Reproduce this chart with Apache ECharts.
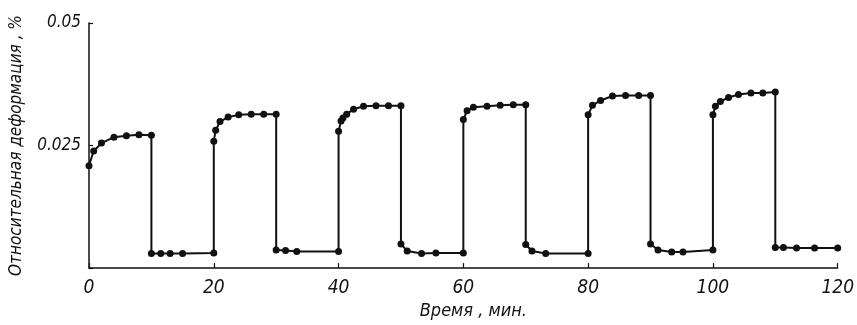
<!DOCTYPE html>
<html>
<head>
<meta charset="utf-8">
<script src="https://cdn.jsdelivr.net/npm/echarts@6/dist/echarts.min.js"></script>
<style>
  html, body { margin: 0; padding: 0; background: #fff; }
  #chart { width: 857px; height: 325px; }
</style>
</head>
<body>
<div id="chart"></div>
<script>
// время, мин (вертикальные скачки — две точки с одинаковым временем)
var timeMin = [
  0, 0.75, 2, 4, 6, 8, 10,
  10, 11.5, 13, 15, 20,
  20, 20.3, 21, 22.3, 24, 26, 28, 30,
  30, 31.5, 33.3, 40,
  40, 40.4, 40.7, 41.3, 42.4, 44, 46, 48, 50,
  50, 51, 53.3, 55.6, 60,
  60, 60.6, 61.6, 63.8, 65.9, 68, 70,
  70, 71, 73.2, 80,
  80, 80.7, 82, 83.9, 86, 88.1, 90,
  90, 91.2, 93.4, 95.2, 100,
  100, 100.4, 101.2, 102.5, 104.1, 106.1, 108, 110,
  110, 111.3, 113.4, 116.3, 120
];
// относительная деформация, %
var strainPct = [
  0.0209, 0.0239, 0.0255, 0.0267, 0.0270, 0.0272, 0.0271,
  0.0030, 0.0030, 0.0030, 0.0030, 0.0031,
  0.0259, 0.0281, 0.0299, 0.0308, 0.0313, 0.0314, 0.0314, 0.0314,
  0.0037, 0.0036, 0.0034, 0.0034,
  0.0279, 0.0300, 0.0306, 0.0314, 0.0324, 0.0330, 0.0331, 0.0331, 0.0331,
  0.0049, 0.0035, 0.0030, 0.0031, 0.0031,
  0.0303, 0.0321, 0.0328, 0.0330, 0.0332, 0.0333, 0.0333,
  0.0048, 0.0035, 0.0030, 0.0030,
  0.0313, 0.0332, 0.0342, 0.0351, 0.0352, 0.0352, 0.0352,
  0.0049, 0.0037, 0.0033, 0.0033, 0.0037,
  0.0313, 0.0330, 0.0340, 0.0348, 0.0354, 0.0357, 0.0357, 0.0359,
  0.0042, 0.0042, 0.0041, 0.0041, 0.0041
];
var xTickLabels = ['0', '20', '40', '60', '80', '100', '120'];
var yTickLabels = ['', '0.025', '0.05'];

var points = timeMin.map(function (t, i) { return [t, strainPct[i]]; });

var font = "'Liberation Sans Narrow', 'DejaVu Sans Condensed', sans-serif";

var chart = echarts.init(document.getElementById('chart'));
var option = {
  animation: false,
  grid: { left: 87, right: 15, top: 23, bottom: 56 },
  xAxis: {
    type: 'value',
    min: 0, max: 120, interval: 20,
    name: 'Время , мин.',
    nameLocation: 'middle',
    nameGap: 27,
    nameTextStyle: { fontFamily: font, fontStyle: 'italic', fontSize: 18, color: '#111', padding: [0, 0, 0, 20] },
    axisLine: { onZero: false, lineStyle: { color: '#111', width: 1.5 } },
    axisTick: { inside: true, length: 5, lineStyle: { color: '#111', width: 1.2 } },
    axisLabel: {
      margin: 10, fontFamily: font, fontStyle: 'italic', fontSize: 19, color: '#111',
      formatter: function (v) { return xTickLabels[Math.round(v / 20)]; }
    },
    splitLine: { show: false }
  },
  yAxis: {
    type: 'value',
    min: 0, max: 0.05, interval: 0.025,
    name: 'Относительная деформация , %',
    nameLocation: 'middle',
    nameGap: 64,
    nameTextStyle: { fontFamily: font, fontStyle: 'italic', fontSize: 17, color: '#111' },
    axisLine: { show: true, lineStyle: { color: '#111', width: 1.5 } },
    axisTick: { show: true, inside: true, length: 4, lineStyle: { color: '#111', width: 1.2 } },
    axisLabel: {
      margin: 8, fontFamily: font, fontStyle: 'italic', fontSize: 17, color: '#111',
      formatter: function (v) { return yTickLabels[Math.round(v / 0.025)]; }
    },
    splitLine: { show: false }
  },
  series: [{
    type: 'line',
    data: points,
    symbol: 'circle',
    symbolSize: 7,
    color: '#111',
    lineStyle: { color: '#111', width: 2 },
    itemStyle: { color: '#111' }
  }]
};
chart.setOption(option);
</script>
</body>
</html>
